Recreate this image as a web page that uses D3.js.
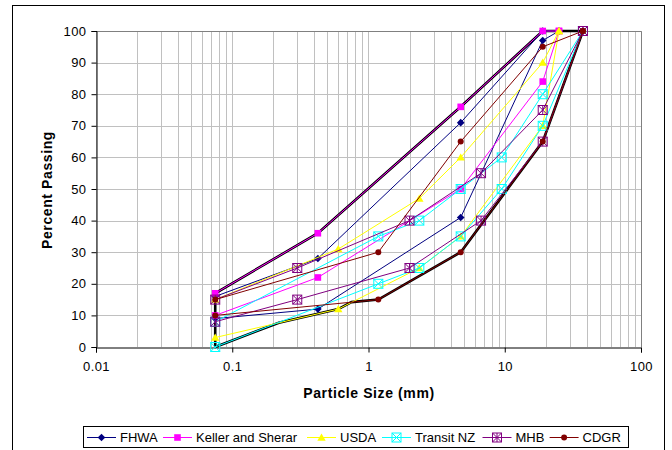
<!DOCTYPE html>
<html><head><meta charset="utf-8">
<script src="https://cdn.jsdelivr.net/npm/d3@7"></script>
<style>body{margin:0;background:#fff}svg{display:block;font-family:"Liberation Sans",Arial,sans-serif}</style>
</head><body><svg id="c" width="672" height="450"></svg>
<script>
// ---- data ----
const seriesNames = ["FHWA","Keller and Sherar","USDA","Transit NZ","MHB","CDGR"];
const fhwaX = [0.075,0.425,4.75,19,25];
const fhwaLower = [9,12,41,97,100];
const fhwaUpper = [16,28,71,100,100];
const kellerX = [0.075,0.425,4.75,19,25];
const kellerLower = [10,22,50,84,100];
const kellerUpper = [17,36,76,100,100];
const usdaX = [0.075,0.6,2.36,4.75,19,25];
const usdaLower = [3,12,25,35,70,100];
const usdaUpper = [15,31,47,60,90,100];
const tnzX = [0.075,1.18,2.36,4.75,9.5,19,37.5];
const tnzLower = [0,20,25,35,50,70,100];
const tnzUpper = [8,35,40,50,60,80,100];
const mhbX = [0.075,0.3,2,6.7,19,37.5];
const mhbLower = [8,15,25,40,65,100];
const mhbUpper = [15,25,40,55,75,100];
const cdgrX = [0.075,1.18,4.75,19,37.5];
const cdgrLower = [10,15,30,65,100];
const cdgrUpper = [15,30,65,95,100];
// envelope (black, no legend entry)
const envUpperX = [0.075,0.075,0.425,4.75,19,37.5];
const envUpperY = [0,17,36,76,100,100];
const envLowerX = [0.075,0.22,0.6,0.75,1.18,4.75,19,37.5];
const envLowerY = [0,7.7,12,14.2,15,30,65,100];
const yTicks = [0,10,20,30,40,50,60,70,80,90,100];
const xTicks = [0.01,0.1,1,10,100];
const xTickLabels = ["0.01","0.1","1","10","100"];

// ---- layout ----
const svg = d3.select("#c");
const L=96, R=641, T=31, B=347;
const x = d3.scaleLog().domain([0.01,100]).range([L,R]);
const y = d3.scaleLinear().domain([0,100]).range([B,T]);

svg.append("rect").attr("x",12.5).attr("y",5.5).attr("width",652).attr("height",460)
  .attr("fill","#fff").attr("stroke","#000");

// gridlines
const g = svg.append("g");
g.selectAll(".vg").data(x.ticks()).join("line")
  .attr("x1",d=>Math.round(x(d))+0.5).attr("x2",d=>Math.round(x(d))+0.5)
  .attr("y1",T).attr("y2",B).attr("stroke","#c0c0c0");
g.selectAll(".hg").data(yTicks.slice(1)).join("line")
  .attr("x1",L).attr("x2",R).attr("y1",d=>Math.round(y(d))+0.5).attr("y2",d=>Math.round(y(d))+0.5)
  .attr("stroke","#c0c0c0");
// plot border top/right gray
svg.append("path").attr("d",`M${L},${T+0.5}H${R+0.5}V${B}`).attr("fill","none").attr("stroke","#808080");

// axes
const yAxis = d3.axisLeft(y).tickValues(yTicks).tickSize(5).tickPadding(5);
const ya = svg.append("g").attr("transform",`translate(${L+0.5},0)`).call(yAxis);
const xAxis = d3.axisBottom(x).tickValues(xTicks).tickFormat((d,i)=>xTickLabels[i]).tickSize(5).tickPadding(9);
const xa = svg.append("g").attr("transform",`translate(0,${B+0.5})`).call(xAxis);
[ya,xa].forEach(a=>{a.select(".domain").attr("stroke","#000");a.selectAll("line").attr("stroke","#000");
  a.selectAll("text").attr("font-size",13).attr("fill","#000").style("letter-spacing","0.4px").attr("font-family","Liberation Sans, Arial, sans-serif");});
ya.selectAll("text").attr("x",-10);

svg.append("text").attr("x",369).attr("y",398).attr("text-anchor","middle")
  .attr("font-size",14).attr("font-weight","bold").style("letter-spacing","0.6px").text("Particle Size  (mm)");
svg.append("text").attr("transform","translate(52,190) rotate(-90)").attr("text-anchor","middle")
  .attr("font-size",14).attr("font-weight","bold").style("letter-spacing","0.6px").text("Percent Passing");

// ---- marks ----
const line = d3.line().x(d=>x(d[0])).y(d=>y(d[1]));
const zip = (xs,ys)=>xs.map((v,i)=>[v,ys[i]]);
// envelope
const env = zip(envUpperX,envUpperY).concat(zip(envLowerX,envLowerY).reverse());
svg.append("path").attr("d",line(env)).attr("fill","none").attr("stroke","#000").attr("stroke-width",2.6).attr("stroke-linejoin","miter");

const colors = ["#000080","#ff00ff","#ffff00","#00ffff","#800080","#800000"];
const markers = ["diamond","square","triangle","boxx","boxstar","circle"];
function drawMarker(sel, type, color){
  if(type==="diamond") sel.append("path").attr("d","M0,-3.8L3.8,0L0,3.8L-3.8,0Z").attr("fill",color);
  else if(type==="square") sel.append("rect").attr("x",-3.3).attr("y",-3.3).attr("width",6.6).attr("height",6.6).attr("fill",color);
  else if(type==="triangle") sel.append("path").attr("d","M0,-4L4.2,3.2L-4.2,3.2Z").attr("fill",color);
  else if(type==="circle") sel.append("circle").attr("r",3).attr("fill",color);
  else {
    sel.append("rect").attr("x",-4.5).attr("y",-4.5).attr("width",9).attr("height",9).attr("fill","none").attr("stroke",color);
    let d="M-4.5,-4.5L4.5,4.5M4.5,-4.5L-4.5,4.5";
    if(type==="boxstar") d+="M0,-4.5V4.5";
    sel.append("path").attr("d",d).attr("stroke",color).attr("fill","none");
  }
}
const seriesData = [
  [fhwaX,fhwaLower,fhwaUpper],[kellerX,kellerLower,kellerUpper],[usdaX,usdaLower,usdaUpper],
  [tnzX,tnzLower,tnzUpper],[mhbX,mhbLower,mhbUpper],[cdgrX,cdgrLower,cdgrUpper]];
seriesData.forEach((s,i)=>{
  const gs = svg.append("g");
  [s[1],s[2]].forEach(ys=>{
    const pts = zip(s[0],ys);
    gs.append("path").attr("d",line(pts)).attr("fill","none").attr("stroke",colors[i]).attr("stroke-width",1);
    pts.forEach(p=>{
      const m = gs.append("g").attr("transform",`translate(${x(p[0])},${y(p[1])})`);
      drawMarker(m,markers[i],colors[i]);
    });
  });
});

// ---- legend ----
const lg = svg.append("g");
lg.append("rect").attr("x",83.5).attr("y",426.5).attr("width",545).attr("height",21).attr("fill","#fff").attr("stroke","#000");
const legStarts = [87,163,307,382,482.5,549.6];
seriesNames.forEach((n,i)=>{
  const x0 = legStarts[i], yc = 437.5;
  lg.append("line").attr("x1",x0).attr("x2",x0+29).attr("y1",yc).attr("y2",yc).attr("stroke",colors[i]);
  const m = lg.append("g").attr("transform",`translate(${x0+14.5},${yc})`);
  drawMarker(m,markers[i],colors[i]);
  lg.append("text").attr("x",x0+33).attr("y",yc+4.5).attr("font-size",13).text(n);
});
</script></body></html>
